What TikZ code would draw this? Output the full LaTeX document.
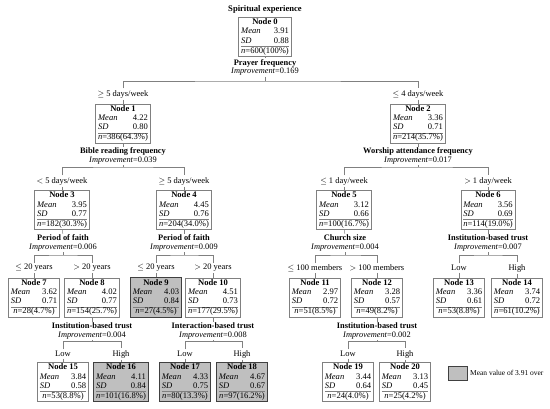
\documentclass[tikz,border=0pt]{standalone}
\usepackage{fontspec}
\setmainfont{Liberation Serif}
\usepackage{colortbl}
\begin{document}
\begin{tikzpicture}[x=1bp, y=-1bp,
        tnode/.style={draw=gray, fill=white, line width=0.5pt, inner xsep=2.5bp, inner ysep=0.8bp, font=\fontsize{8.6}{9.4}\selectfont},
        hinode/.style={tnode, fill=lightgray, draw=black!75, line width=1pt},
        split/.style={align=center, inner sep=1bp, font=\fontsize{8.4}{8.8}\selectfont},
        cond/.style={inner sep=1.5bp, font=\fontsize{8.5}{9}\selectfont},
        link/.style={draw=gray, line width=0.6pt}]
        \useasboundingbox (0,0) rectangle (550,408);
        \renewcommand{\arraystretch}{1} % rows inside the boxes
        \arrayrulecolor{gray}

        % Root
        \node[split, font=\fontsize{8.6}{9}\selectfont] (t0) at (265,9) {\textbf{Spiritual experience}};
        \node[tnode] (n0) at (265,37) {
            \begin{tabular}{@{}lr@{}}
                \multicolumn{2}{@{}c@{}}{\textbf{Node 0}} \\
                \textit{Mean} & 3.91 \\
                \textit{SD} & 0.88 \\ \hline
                \multicolumn{2}{@{}c@{}}{\textit{n}=600(100\%)}
            \end{tabular}
        };

        % Split labels
        \node[split] (s0) at (265,67.5) {\textbf{Prayer frequency}\\\textit{Improvement}=0.169};
        \node[split] (s1) at (123,156) {\textbf{Bible reading frequency}\\\textit{Improvement}=0.039};
        \node[split] (s2) at (418,156) {\textbf{Worship attendance frequency}\\\textit{Improvement}=0.017};
        \node[split] (s3) at (63,243) {\textbf{Period of faith}\\\textit{Improvement}=0.006};
        \node[split] (s4) at (184,243) {\textbf{Period of faith}\\\textit{Improvement}=0.009};
        \node[split] (s5) at (345,243) {\textbf{Church size}\\\textit{Improvement}=0.004};
        \node[split] (s6) at (488,243) {\textbf{Institution-based trust}\\\textit{Improvement}=0.007};
        \node[split] (s8) at (92,331) {\textbf{Institution-based trust}\\\textit{Improvement}=0.004};
        \node[split] (s10) at (213,331) {\textbf{Interaction-based trust}\\\textit{Improvement}=0.008};
        \node[split] (s12) at (377,331) {\textbf{Institution-based trust}\\\textit{Improvement}=0.002};

        % Branch points
        \coordinate (b0) at (265,81);
        \coordinate (b1) at (123,167);
        \coordinate (b2) at (418,167);
        \coordinate (b3) at (63,255);
        \coordinate (b4) at (184,255);
        \coordinate (b5) at (345,255);
        \coordinate (b6) at (488,255);
        \coordinate (b8) at (92,341);
        \coordinate (b10) at (213,341);
        \coordinate (b12) at (377,341);

        % Branch conditions
        \node[cond] (e1) at (123,94) {$\geq$ 5 days/week};
        \node[cond] (e2) at (418,94) {$\leq$ 4 days/week};
        \node[cond] (e3) at (62,181) {$<$ 5 days/week};
        \node[cond] (e4) at (184,181) {$\geq$ 5 days/week};
        \node[cond] (e5) at (344,181) {$\leq$ 1 day/week};
        \node[cond] (e6) at (488,181) {$>$ 1 day/week};
        \node[cond] (e7) at (34,268) {$\leq$ 20 years};
        \node[cond] (e8) at (92,268) {$>$ 20 years};
        \node[cond] (e9) at (156,268) {$\leq$ 20 years};
        \node[cond] (e10) at (213,268) {$>$ 20 years};
        \node[cond] (e11) at (315,268) {$\leq$ 100 members};
        \node[cond] (e12) at (377,268) {$>$ 100 members};
        \node[cond] (e13) at (459,268) {Low};
        \node[cond] (e14) at (517,268) {High};
        \node[cond] (e15) at (63,354) {Low};
        \node[cond] (e16) at (121,354) {High};
        \node[cond] (e17) at (185,354) {Low};
        \node[cond] (e18) at (242,354) {High};
        \node[cond] (e19) at (348,354) {Low};
        \node[cond] (e20) at (405,354) {High};

        % Level 1
        \node[tnode] (n1) at (123,123.5) {
            \begin{tabular}{@{}lr@{}}
                \multicolumn{2}{@{}c@{}}{\textbf{Node 1}} \\
                \textit{Mean} & 4.22 \\
                \textit{SD} & 0.80 \\ \hline
                \multicolumn{2}{@{}c@{}}{\textit{n}=386(64.3\%)}
            \end{tabular}
        };
        \node[tnode] (n2) at (418,123.5) {
            \begin{tabular}{@{}lr@{}}
                \multicolumn{2}{@{}c@{}}{\textbf{Node 2}} \\
                \textit{Mean} & 3.36 \\
                \textit{SD} & 0.71 \\ \hline
                \multicolumn{2}{@{}c@{}}{\textit{n}=214(35.7\%)}
            \end{tabular}
        };

        % Level 2
        \node[tnode] (n3) at (62,210) {
            \begin{tabular}{@{}lr@{}}
                \multicolumn{2}{@{}c@{}}{\textbf{Node 3}} \\
                \textit{Mean} & 3.95 \\
                \textit{SD} & 0.77 \\ \hline
                \multicolumn{2}{@{}c@{}}{\textit{n}=182(30.3\%)}
            \end{tabular}
        };
        \node[tnode] (n4) at (184,210) {
            \begin{tabular}{@{}lr@{}}
                \multicolumn{2}{@{}c@{}}{\textbf{Node 4}} \\
                \textit{Mean} & 4.45 \\
                \textit{SD} & 0.76 \\ \hline
                \multicolumn{2}{@{}c@{}}{\textit{n}=204(34.0\%)}
            \end{tabular}
        };
        \node[tnode] (n5) at (344,210) {
            \begin{tabular}{@{}lr@{}}
                \multicolumn{2}{@{}c@{}}{\textbf{Node 5}} \\
                \textit{Mean} & 3.12 \\
                \textit{SD} & 0.66 \\ \hline
                \multicolumn{2}{@{}c@{}}{\textit{n}=100(16.7\%)}
            \end{tabular}
        };
        \node[tnode] (n6) at (488,210) {
            \begin{tabular}{@{}lr@{}}
                \multicolumn{2}{@{}c@{}}{\textbf{Node 6}} \\
                \textit{Mean} & 3.56 \\
                \textit{SD} & 0.69 \\ \hline
                \multicolumn{2}{@{}c@{}}{\textit{n}=114(19.0\%)}
            \end{tabular}
        };

        % Level 3
        \node[tnode] (n7) at (34,297.5) {
            \begin{tabular}{@{}lr@{}}
                \multicolumn{2}{@{}c@{}}{\textbf{Node 7}} \\
                \textit{Mean} & 3.62 \\
                \textit{SD} & 0.71 \\ \hline
                \multicolumn{2}{@{}c@{}}{\textit{n}=28(4.7\%)}
            \end{tabular}
        };
        \node[tnode] (n8) at (92,297.5) {
            \begin{tabular}{@{}lr@{}}
                \multicolumn{2}{@{}c@{}}{\textbf{Node 8}} \\
                \textit{Mean} & 4.02 \\
                \textit{SD} & 0.77 \\ \hline
                \multicolumn{2}{@{}c@{}}{\textit{n}=154(25.7\%)}
            \end{tabular}
        };
        \node[hinode] (n9) at (156,297.5) {
            \begin{tabular}{@{}lr@{}}
                \multicolumn{2}{@{}c@{}}{\textbf{Node 9}} \\
                \textit{Mean} & 4.03 \\
                \textit{SD} & 0.84 \\ \hline
                \multicolumn{2}{@{}c@{}}{\textit{n}=27(4.5\%)}
            \end{tabular}
        };
        \node[tnode] (n10) at (213,297.5) {
            \begin{tabular}{@{}lr@{}}
                \multicolumn{2}{@{}c@{}}{\textbf{Node 10}} \\
                \textit{Mean} & 4.51 \\
                \textit{SD} & 0.73 \\ \hline
                \multicolumn{2}{@{}c@{}}{\textit{n}=177(29.5\%)}
            \end{tabular}
        };
        \node[tnode] (n11) at (315,297.5) {
            \begin{tabular}{@{}lr@{}}
                \multicolumn{2}{@{}c@{}}{\textbf{Node 11}} \\
                \textit{Mean} & 2.97 \\
                \textit{SD} & 0.72 \\ \hline
                \multicolumn{2}{@{}c@{}}{\textit{n}=51(8.5\%)}
            \end{tabular}
        };
        \node[tnode] (n12) at (377,297.5) {
            \begin{tabular}{@{}lr@{}}
                \multicolumn{2}{@{}c@{}}{\textbf{Node 12}} \\
                \textit{Mean} & 3.28 \\
                \textit{SD} & 0.57 \\ \hline
                \multicolumn{2}{@{}c@{}}{\textit{n}=49(8.2\%)}
            \end{tabular}
        };
        \node[tnode] (n13) at (459,297.5) {
            \begin{tabular}{@{}lr@{}}
                \multicolumn{2}{@{}c@{}}{\textbf{Node 13}} \\
                \textit{Mean} & 3.36 \\
                \textit{SD} & 0.61 \\ \hline
                \multicolumn{2}{@{}c@{}}{\textit{n}=53(8.8\%)}
            \end{tabular}
        };
        \node[tnode] (n14) at (517,297.5) {
            \begin{tabular}{@{}lr@{}}
                \multicolumn{2}{@{}c@{}}{\textbf{Node 14}} \\
                \textit{Mean} & 3.74 \\
                \textit{SD} & 0.72 \\ \hline
                \multicolumn{2}{@{}c@{}}{\textit{n}=61(10.2\%)}
            \end{tabular}
        };

        % Level 4
        \node[tnode] (n15) at (63,382) {
            \begin{tabular}{@{}lr@{}}
                \multicolumn{2}{@{}c@{}}{\textbf{Node 15}} \\
                \textit{Mean} & 3.84 \\
                \textit{SD} & 0.58 \\ \hline
                \multicolumn{2}{@{}c@{}}{\textit{n}=53(8.8\%)}
            \end{tabular}
        };
        \node[hinode] (n16) at (121,382) {
            \begin{tabular}{@{}lr@{}}
                \multicolumn{2}{@{}c@{}}{\textbf{Node 16}} \\
                \textit{Mean} & 4.11 \\
                \textit{SD} & 0.84 \\ \hline
                \multicolumn{2}{@{}c@{}}{\textit{n}=101(16.8\%)}
            \end{tabular}
        };
        \node[hinode] (n17) at (185,382) {
            \begin{tabular}{@{}lr@{}}
                \multicolumn{2}{@{}c@{}}{\textbf{Node 17}} \\
                \textit{Mean} & 4.33 \\
                \textit{SD} & 0.75 \\ \hline
                \multicolumn{2}{@{}c@{}}{\textit{n}=80(13.3\%)}
            \end{tabular}
        };
        \node[hinode] (n18) at (242,382) {
            \begin{tabular}{@{}lr@{}}
                \multicolumn{2}{@{}c@{}}{\textbf{Node 18}} \\
                \textit{Mean} & 4.67 \\
                \textit{SD} & 0.67 \\ \hline
                \multicolumn{2}{@{}c@{}}{\textit{n}=97(16.2\%)}
            \end{tabular}
        };
        \node[tnode] (n19) at (348,382) {
            \begin{tabular}{@{}lr@{}}
                \multicolumn{2}{@{}c@{}}{\textbf{Node 19}} \\
                \textit{Mean} & 3.44 \\
                \textit{SD} & 0.64 \\ \hline
                \multicolumn{2}{@{}c@{}}{\textit{n}=24(4.0\%)}
            \end{tabular}
        };
        \node[tnode] (n20) at (405,382) {
            \begin{tabular}{@{}lr@{}}
                \multicolumn{2}{@{}c@{}}{\textbf{Node 20}} \\
                \textit{Mean} & 3.13 \\
                \textit{SD} & 0.45 \\ \hline
                \multicolumn{2}{@{}c@{}}{\textit{n}=25(4.2\%)}
            \end{tabular}
        };

        % Legend
        \node[draw=black!75, fill=lightgray, line width=1pt, minimum width=19bp, minimum height=14bp, inner sep=0pt] (key) at (457.5,373) {};
        \node[cond, anchor=west, font=\fontsize{7.5}{9}\selectfont] (keytext) at ([xshift=1bp]key.east) {Mean value of 3.91 over};

        % Connectors
        \draw[link] (n0) -- (s0);
        \draw[link] (s0) -- (b0);
        \draw[link] (e1) |- (b0) -| (e2);
        \draw[link] (e1) -- (n1);
        \draw[link] (e2) -- (n2);

        \draw[link] (n1) -- (s1);
        \draw[link] (s1) -- (b1);
        \draw[link] (e3) |- (b1) -| (e4);
        \draw[link] (e3) -- (n3);
        \draw[link] (e4) -- (n4);

        \draw[link] (n2) -- (s2);
        \draw[link] (s2) -- (b2);
        \draw[link] (e5) |- (b2) -| (e6);
        \draw[link] (e5) -- (n5);
        \draw[link] (e6) -- (n6);

        \draw[link] (n3) -- (s3);
        \draw[link] (s3) -- (b3);
        \draw[link] (e7) |- (b3) -| (e8);
        \draw[link] (e7) -- (n7);
        \draw[link] (e8) -- (n8);

        \draw[link] (n4) -- (s4);
        \draw[link] (s4) -- (b4);
        \draw[link] (e9) |- (b4) -| (e10);
        \draw[link] (e9) -- (n9);
        \draw[link] (e10) -- (n10);

        \draw[link] (n5) -- (s5);
        \draw[link] (s5) -- (b5);
        \draw[link] (e11) |- (b5) -| (e12);
        \draw[link] (e11) -- (n11);
        \draw[link] (e12) -- (n12);

        \draw[link] (n6) -- (s6);
        \draw[link] (s6) -- (b6);
        \draw[link] (e13) |- (b6) -| (e14);
        \draw[link] (e13) -- (n13);
        \draw[link] (e14) -- (n14);

        \draw[link] (n8) -- (s8);
        \draw[link] (s8) -- (b8);
        \draw[link] (e15) |- (b8) -| (e16);
        \draw[link] (e15) -- (n15);
        \draw[link] (e16) -- (n16);

        \draw[link] (n10) -- (s10);
        \draw[link] (s10) -- (b10);
        \draw[link] (e17) |- (b10) -| (e18);
        \draw[link] (e17) -- (n17);
        \draw[link] (e18) -- (n18);

        \draw[link] (n12) -- (s12);
        \draw[link] (s12) -- (b12);
        \draw[link] (e19) |- (b12) -| (e20);
        \draw[link] (e19) -- (n19);
        \draw[link] (e20) -- (n20);

    \end{tikzpicture}
\end{document}
